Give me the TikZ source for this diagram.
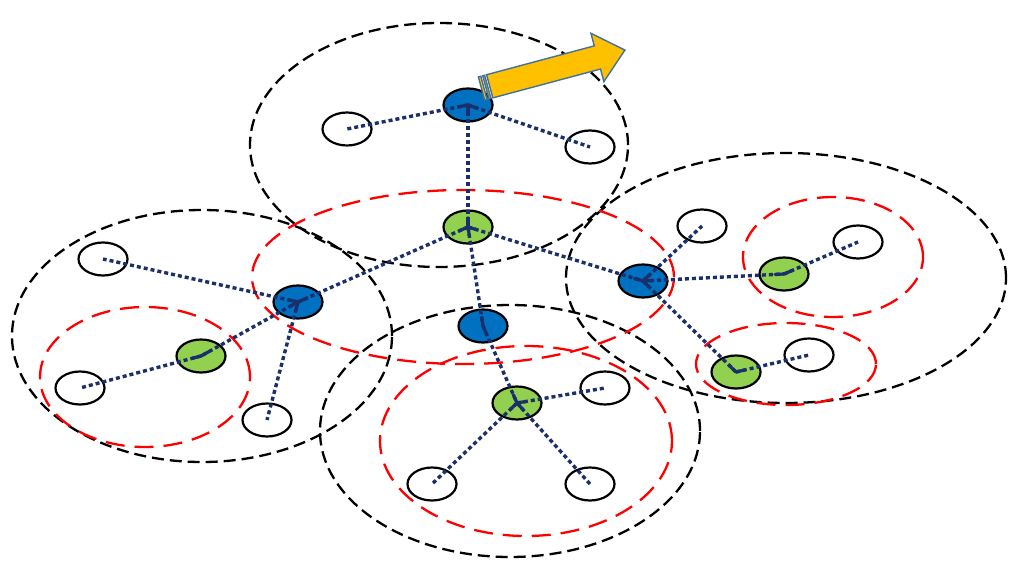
\documentclass[tikz,border=0pt]{standalone}
\usetikzlibrary{shapes.geometric,calc}
\definecolor{navy}{HTML}{1A2F6B}
\definecolor{nodeblue}{HTML}{0070C0}
\definecolor{nodegreen}{HTML}{92D050}
\definecolor{arrowfill}{HTML}{FFC000}
\definecolor{arrowline}{HTML}{41719C}
\newcommand\spokes[2]{\foreach \nb in {#2} {\draw[spoke] (#1.center) -- ($(#1.center)!9pt!(\nb.center)$);}}
\begin{document}
\begin{tikzpicture}[x=1pt,y=-1pt,
  zone/.style={draw=black, line width=2.3pt, dash pattern=on 12pt off 6pt},
  redzone/.style={draw=red, line width=2.3pt, dash pattern=on 19pt off 10pt},
  hubnode/.style={ellipse, draw=black, line width=2.2pt, minimum width=49pt, minimum height=33pt, inner sep=0pt},
  bluehub/.style={hubnode, fill=nodeblue},
  greenhub/.style={hubnode, fill=nodegreen},
  leaf/.style={hubnode, fill=white},
  link/.style={draw=navy, line width=3.4pt, dash pattern=on 4pt off 3pt},
  spoke/.style={draw=navy, line width=3.2pt, line cap=round},
  bigarrow/.style={fill=arrowfill, draw=arrowline, line width=1.4pt, line join=miter}]
\useasboundingbox (0,0) rectangle (1024,569);
\fill[white] (0,0) rectangle (1024,569);

% clusters (black dashed)
\draw[zone] (439,145) ellipse [x radius=189pt, y radius=122pt];
\draw[zone] (202,336) ellipse [x radius=190pt, y radius=126pt];
\draw[zone] (510,431) ellipse [x radius=190pt, y radius=126pt];
\draw[zone] (786,278) ellipse [x radius=220pt, y radius=125pt];

% sub-clusters (red dashed)
\draw[redzone] (463,277) ellipse [x radius=211pt, y radius=87pt];
\draw[redzone] (145,377) ellipse [x radius=105pt, y radius=70pt];
\draw[redzone] (526,441) ellipse [x radius=146pt, y radius=95pt];
\draw[redzone] (833,257) ellipse [x radius=90pt, y radius=60pt];
\draw[redzone] (786,364) ellipse [x radius=90pt, y radius=41pt];

% nodes
\node[bluehub] (bT) at (468,105) {};
\node[bluehub] (bL) at (298,302) {};
\node[bluehub] (bR) at (643,281) {};
\node[bluehub] (bB) at (483,326) {};
\node[greenhub] (gC) at (468,227) {};
\node[greenhub] (gL) at (201,356) {};
\node[greenhub] (gB) at (517,403) {};
\node[greenhub] (gR1) at (784,274) {};
\node[greenhub] (gR2) at (736,372) {};
\node[leaf] (wT1) at (347,129) {};
\node[leaf] (wT2) at (590,147) {};
\node[leaf] (wL1) at (103,259) {};
\node[leaf] (wL2) at (80,388) {};
\node[leaf] (wL3) at (267,420) {};
\node[leaf] (wR1) at (702,226) {};
\node[leaf] (wR2) at (858,242) {};
\node[leaf] (wR3) at (809,355) {};
\node[leaf] (wB1) at (605,388) {};
\node[leaf] (wB2) at (432,484) {};
\node[leaf] (wB3) at (590,484) {};

% links
\draw[link] (bT.center) -- (wT1.center);
\draw[link] (bT.center) -- (wT2.center);
\draw[link] (bT.center) -- (gC.center);
\draw[link] (gC.center) -- (bL.center);
\draw[link] (gC.center) -- (bR.center);
\draw[link] (gC.center) -- (bB.center);
\draw[link] (bL.center) -- (wL1.center);
\draw[link] (bL.center) -- (gL.center);
\draw[link] (bL.center) -- (wL3.center);
\draw[link] (gL.center) -- (wL2.center);
\draw[link] (bR.center) -- (wR1.center);
\draw[link] (bR.center) -- (gR1.center);
\draw[link] (bR.center) -- (gR2.center);
\draw[link] (gR1.center) -- (wR2.center);
\draw[link] (gR2.center) -- (wR3.center);
\draw[link] (bB.center) -- (gB.center);
\draw[link] (gB.center) -- (wB1.center);
\draw[link] (gB.center) -- (wB2.center);
\draw[link] (gB.center) -- (wB3.center);

% hub marks
\spokes{bT}{wT1,wT2,gC}
\spokes{gC}{bT,bL,bR,bB}
\spokes{bL}{gC,wL1,gL,wL3}
\spokes{gL}{bL,wL2}
\spokes{bR}{gC,wR1,gR1,gR2}
\spokes{gR1}{bR,wR2}
\spokes{gR2}{bR,wR3}
\spokes{bB}{gC,gB}
\spokes{gB}{bB,wB1,wB2,wB3}

% movement arrow (striped right arrow)
\begin{scope}[shift={(481.5,88.5)}, rotate=15]
  \draw[bigarrow] (0,-12) rectangle (2.5,12);
  \draw[bigarrow] (4.5,-12) rectangle (6.5,12);
  \draw[bigarrow] (8.5,-12) -- (120,-12) -- (120,-25) -- (148.5,0)
        -- (120,25) -- (120,12) -- (8.5,12) -- cycle;
\end{scope}
\end{tikzpicture}
\end{document}
